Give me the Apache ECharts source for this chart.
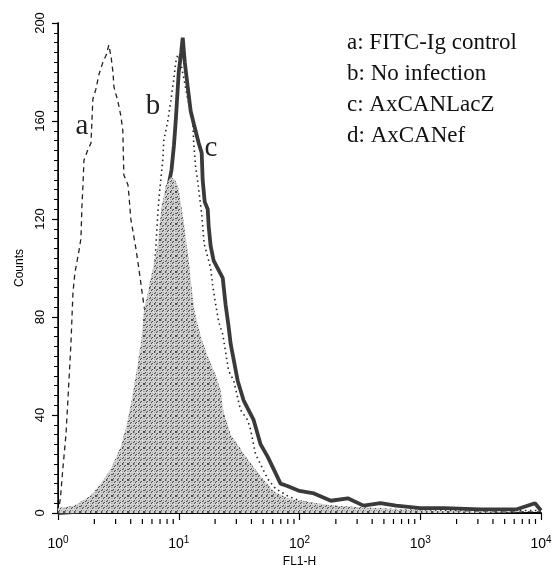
<!DOCTYPE html>
<html><head><meta charset="utf-8">
<script src="https://cdn.jsdelivr.net/npm/echarts@6/dist/echarts.min.js"></script>
<style>html,body{margin:0;padding:0;background:#fff}#c{width:555px;height:565px}</style>
</head><body><div id="c"></div>
<script>
// x values are log10(FL1-H), y values are counts
const xDecades = [0, 1, 2, 3, 4];
const yTicks = [0, 40, 80, 120, 160, 200];
const legendLines = ['a: FITC-Ig control', 'b: No infection', 'c: AxCANLacZ', 'd: AxCANef'];
const curveLetters = ['a', 'b', 'c', 'd'];

const aLog   = [0.0,0.02,0.04,0.066,0.083,0.107,0.124,0.14,0.17,0.19,0.198,0.207,0.215,0.245,0.273,0.289,0.314,0.339,0.372,0.40,0.421,0.44,0.455,0.463,0.496,0.521,0.537,0.545,0.579,0.587,0.603,0.645,0.669,0.702,0.727,0.76,0.8,0.85,0.9,0.95,1.0,1.05,1.1,1.2,1.3,1.45,1.6,1.8,2.0,2.5,3.0,3.5,4.0];
const aCount = [0,6,18,32,47,69,90,98,106,112,125,134,144,148,151,169,173,179,184,187,191,186,180,174,168,162,156,138,134,130,120,108,100,88,80,70,58,46,35,26,19,14,10,6,4,3,2,1,1,0.5,0.5,0.5,0.5];

const bLog   = [0.0,0.2,0.4,0.5,0.6,0.65,0.7,0.75,0.8,0.83,0.851,0.868,0.876,0.909,0.934,0.95,0.959,0.975,0.992,1.01,1.04,1.07,1.1,1.116,1.124,1.14,1.15,1.17,1.19,1.21,1.264,1.281,1.306,1.331,1.364,1.413,1.455,1.512,1.57,1.595,1.636,1.736,1.8,1.9,2.0,2.2,2.5,3.0,3.5,4.0];
const bCount = [0,1,3,6,16,28,45,70,100,125,136,144,152,160,168,174,177,184,187,185,178,170,164,160,151,141,138,130,122,110,100,93,85,78,73,58,54,42,38,34,24,14,10,7,5,3,2,1,1,1];

const cLog   = [0.0,0.3,0.5,0.6,0.7,0.75,0.8,0.85,0.876,0.909,0.94,0.96,0.975,0.99,1.0,1.02,1.033,1.05,1.074,1.099,1.124,1.165,1.19,1.198,1.215,1.24,1.248,1.264,1.289,1.364,1.388,1.413,1.43,1.488,1.537,1.62,1.678,1.736,1.785,1.843,1.9,2.0,2.12,2.26,2.4,2.53,2.67,2.8,3.0,3.2,3.5,3.8,3.95,4.0];
const cCount = [0,1,3,10,30,55,85,110,125,132,140,150,160,172,180,188,194,184,174,164,159,151,147,136,127,124,117,109,103,96,85,76,69,54,46,38,28,23,18,12,11,9,8,5,6,3,4,3,2,2,1.5,1.5,4,1];

const dLog   = [0.0,0.13,0.27,0.355,0.438,0.52,0.579,0.628,0.686,0.711,0.769,0.826,0.851,0.893,0.934,0.97,1.0,1.041,1.083,1.124,1.182,1.24,1.3,1.347,1.372,1.43,1.5,1.57,1.678,1.785,1.9,2.0,2.3,2.6,3.0,3.5,4.0];
const dCount = [2,3,7,12,18,27,38,51,69,82,96,109,122,134,137,136,132,119,103,84,72,64,57,50,41,32,27,22,15,9,6,5,3,2,1,0.5,0.5];

// log-scale minor tick positions (axis structure)
const xMinorTicks = [];
for (let n = 0; n < 4; n++) for (let k = 2; k <= 9; k++) xMinorTicks.push(n + Math.log10(k));

const pairs = (xs, ys) => xs.map((x, i) => [x, ys[i]]);

// stipple texture for the filled histogram
const pc = document.createElement('canvas');
pc.width = 16; pc.height = 16;
const g = pc.getContext('2d');
g.fillStyle = '#d4d4d4'; g.fillRect(0, 0, 16, 16);
for (let y = 0; y < 16; y++) for (let x = 0; x < 16; x++) {
  const m = (x * 7 + y * 11 + x * y) % 5;
  if (m === 0) { g.fillStyle = '#4a4a4a'; g.fillRect(x, y, 1, 1); }
  else if (m === 2) { g.fillStyle = '#a0a0a0'; g.fillRect(x, y, 1, 1); }
}

const chart = echarts.init(document.getElementById('c'), null, {renderer: 'canvas'});
const sans = 'Liberation Sans';
const serif = 'Liberation Serif';

const option = {
  animation: false,
  backgroundColor: '#fff',
  grid: {left: 58, right: 14, top: 23, bottom: 52, show: false, outerBoundsMode: 'none', containLabel: false},
  xAxis: [{
    type: 'value', min: xDecades[0], max: xDecades[xDecades.length - 1], interval: 1,
    offset: 6,
    axisLine: {show: true, lineStyle: {color: 'rgba(255,255,255,0)', width: 1}},
    axisTick: {show: true, inside: false, length: 7, lineStyle: {color: '#000', width: 1.2}},
    splitLine: {show: false},
    axisLabel: {
      margin: 16, color: '#000',
      formatter: v => '{b|10}{s|' + v + '}',
      rich: {
        b: {fontFamily: sans, fontSize: 14, color: '#000'},
        s: {fontFamily: sans, fontSize: 10, color: '#000', padding: [0, 0, 8, 0]}
      }
    },
    name: 'FL1-H', nameLocation: 'middle', nameGap: 32,
    nameTextStyle: {fontFamily: sans, fontSize: 12, color: '#000'}
  }, {
    type: 'value', position: 'top', min: 0, max: 4,
    axisLine: {show: true, lineStyle: {color: '#000', width: 2}},
    axisTick: {show: false}, axisLabel: {show: false}, splitLine: {show: false}
  }],
  yAxis: [{
    type: 'value', min: yTicks[0], max: yTicks[yTicks.length - 1], interval: 40,
    axisLine: {show: true, lineStyle: {color: '#000', width: 1}},
    axisTick: {show: true, inside: false, length: 6, lineStyle: {color: '#000', width: 1.2}},
    minorTick: {show: true, splitNumber: 10, length: 4, lineStyle: {color: '#000', width: 1}},
    splitLine: {show: false},
    axisLabel: {rotate: 90, margin: 11, fontFamily: sans, fontSize: 13, color: '#000'},
    name: 'Counts', nameLocation: 'middle', nameGap: 32,
    nameTextStyle: {fontFamily: sans, fontSize: 12, color: '#000'}
  }, {
    type: 'value', position: 'right', min: 0, max: 200,
    axisLine: {show: true, lineStyle: {color: '#000', width: 1.5}},
    axisTick: {show: false}, axisLabel: {show: false}, splitLine: {show: false}
  }],
  series: [
    {
      name: 'a', type: 'line', data: pairs(aLog, aCount), showSymbol: false, z: 2,
      lineStyle: {color: '#222', width: 1.3, type: [5, 4]}
    },
    {
      name: 'b', type: 'line', data: pairs(bLog, bCount), showSymbol: false, z: 2,
      lineStyle: {color: '#222', width: 1.6, type: [1.5, 3.5]}
    },
    {
      name: 'c', type: 'line', data: pairs(cLog, cCount), showSymbol: false, z: 2,
      lineStyle: {color: '#3a3a3a', width: 3.8}
    },
    {
      name: 'd', type: 'line', data: pairs(dLog, dCount), showSymbol: false, z: 3,
      lineStyle: {width: 0}, areaStyle: {color: {image: pc, repeat: 'repeat'}, opacity: 1}
    },
    {
      type: 'custom', coordinateSystem: 'cartesian2d', silent: true, z: 5, clip: false,
      encode: {x: 0, y: 1},
      data: xMinorTicks.map(v => [v, 0]),
      renderItem: function (params, api) {
        const p = api.coord([api.value(0), 0]);
        return {type: 'line', shape: {x1: p[0], y1: p[1] + 6, x2: p[0], y2: p[1] + 11},
                style: {stroke: '#000', lineWidth: 1.2, fill: null}};
      }
    }
  ],
  graphic: [
    ...legendLines.map((t, i) => ({
      type: 'text', x: 347, y: 43 + i * 31,
      style: {text: t, fontFamily: serif, fontSize: 23, fill: '#111', verticalAlign: 'middle'}
    })),
    ...[[82, 126], [153, 106], [211, 148], [167, 346]].map((p, i) => ({
      type: 'text', x: p[0], y: p[1],
      style: {text: curveLetters[i], fontFamily: serif, fontSize: 29, fill: '#222',
              align: 'center', verticalAlign: 'middle'}
    }))
  ]
};
chart.setOption(option);
</script></body></html>
